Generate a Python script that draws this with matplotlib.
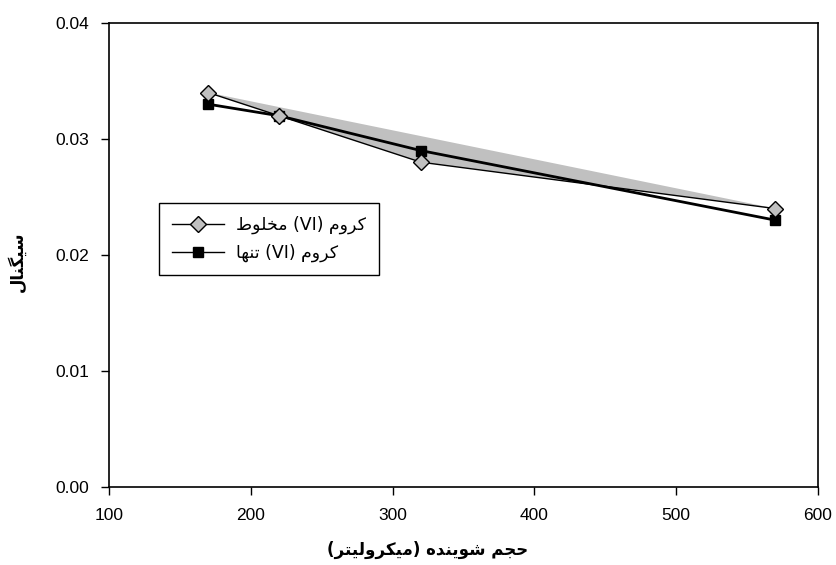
import matplotlib
matplotlib.use("Agg")
import matplotlib.pyplot as plt
from matplotlib.lines import Line2D

# ---------------- data ----------------
volume = [170, 220, 320, 570]
mixed_signal = [0.034, 0.032, 0.028, 0.024]   # کروم (VI) مخلوط
alone_signal = [0.033, 0.032, 0.029, 0.023]   # کروم (VI) تنها
x_ticks = [100, 200, 300, 400, 500, 600]
y_ticks = [0.00, 0.01, 0.02, 0.03, 0.04]
label_mixed = "کروم (VI) مخلوط"
label_alone = "کروم (VI) تنها"
x_label = "حجم شوینده (میکرولیتر)"
y_label = "سیگنال"

# ---------------- minimal Arabic/Persian shaping ----------------
FORMS = {
    "ا": ("\uFE8D", "\uFE8E"),
    "د": ("\uFEA9", "\uFEAA"),
    "ر": ("\uFEAD", "\uFEAE"),
    "و": ("\uFEED", "\uFEEE"),
    "ت": ("\uFE95", "\uFE96", "\uFE97", "\uFE98"),
    "ج": ("\uFE9D", "\uFE9E", "\uFE9F", "\uFEA0"),
    "ح": ("\uFEA1", "\uFEA2", "\uFEA3", "\uFEA4"),
    "خ": ("\uFEA5", "\uFEA6", "\uFEA7", "\uFEA8"),
    "س": ("\uFEB1", "\uFEB2", "\uFEB3", "\uFEB4"),
    "ش": ("\uFEB5", "\uFEB6", "\uFEB7", "\uFEB8"),
    "ط": ("\uFEC1", "\uFEC2", "\uFEC3", "\uFEC4"),
    "ل": ("\uFEDD", "\uFEDE", "\uFEDF", "\uFEE0"),
    "م": ("\uFEE1", "\uFEE2", "\uFEE3", "\uFEE4"),
    "ن": ("\uFEE5", "\uFEE6", "\uFEE7", "\uFEE8"),
    "ه": ("\uFEE9", "\uFEEA", "\uFEEB", "\uFEEC"),
    "ک": ("\uFB8E", "\uFB8F", "\uFB90", "\uFB91"),
    "گ": ("\uFB92", "\uFB93", "\uFB94", "\uFB95"),
    "ی": ("\uFBFC", "\uFBFD", "\uFBFE", "\uFBFF"),
}


def shape(s):
    out = []
    for i, c in enumerate(s):
        if c not in FORMS:
            out.append(c)
            continue
        prev = s[i - 1] if i > 0 else ""
        nxt = s[i + 1] if i + 1 < len(s) else ""
        jp = prev in FORMS and len(FORMS[prev]) == 4
        jn = len(FORMS[c]) == 4 and nxt in FORMS
        f = FORMS[c]
        if jp and jn:
            out.append(f[3])
        elif jp:
            out.append(f[1])
        elif jn:
            out.append(f[2])
        else:
            out.append(f[0])
    shaped = "".join(out)
    # visual order: reverse, keep latin runs LTR, mirror brackets
    rev = shaped[::-1]
    res, run = [], ""
    for ch in rev:
        if ch.isascii() and ch.isalnum():
            run += ch
        else:
            if run:
                res.append(run[::-1])
                run = ""
            res.append({"(": ")", ")": "("}.get(ch, ch))
    if run:
        res.append(run[::-1])
    return "".join(res)


# ---------------- figure ----------------
plt.rcParams["font.family"] = ["Liberation Sans", "DejaVu Sans"]
fig = plt.figure(figsize=(8.37, 5.65), dpi=100)
ax = fig.add_axes([109 / 837, 1 - 487 / 565, (818 - 109) / 837, (487 - 23) / 565])

# gray polygon of the mixed series
ax.fill(volume, mixed_signal, color="#c0c0c0", linewidth=0, zorder=1)

ax.plot(volume, alone_signal, color="black", linewidth=2.0, marker="s",
        markersize=6.5, markerfacecolor="black", markeredgecolor="black", zorder=3)
ax.plot(volume, mixed_signal, color="black", linewidth=1.0, marker="D",
        markersize=8.5, markerfacecolor="#c0c0c0", markeredgecolor="black",
        markeredgewidth=1.0, zorder=4)

ax.set_xlim(100, 600)
ax.set_ylim(0, 0.04)
ax.set_xticks(x_ticks)
ax.set_yticks(y_ticks)
ax.set_yticklabels([f"{v:.2f}" for v in y_ticks])
ax.tick_params(axis="both", direction="out", length=6, width=1, labelsize=12.5,
               colors="black")
ax.tick_params(axis="x", pad=9)
ax.tick_params(axis="y", pad=8)
for sp in ax.spines.values():
    sp.set_linewidth(1.2)
    sp.set_color("black")

ax.set_xlabel(shape(x_label), family=["DejaVu Sans"], fontweight="bold",
              fontsize=12)
ax.xaxis.set_label_coords((428 - 109) / 709, (487 - 541) / 464)
ax.set_ylabel(shape(y_label), family=["DejaVu Sans"], fontweight="bold",
              fontsize=12)
ax.yaxis.set_label_coords((27 - 109) / 709, (487 - 262) / 464)

handles = [
    Line2D([], [], color="black", linewidth=1.0, marker="D", markersize=8.5,
           markerfacecolor="#c0c0c0", markeredgecolor="black"),
    Line2D([], [], color="black", linewidth=1.0, marker="s", markersize=6.5,
           markerfacecolor="black", markeredgecolor="black"),
]
leg = ax.legend(handles, [shape(label_mixed), shape(label_alone)],
                loc="upper left", bbox_to_anchor=((159 - 109) / 709, (487 - 203) / 464),
                prop={"family": ["DejaVu Sans"], "size": 12.5},
                frameon=True, fancybox=False, edgecolor="black", framealpha=1,
                borderpad=0.75, handlelength=3.0, handletextpad=0.7,
                labelspacing=0.55, borderaxespad=0)
leg.get_frame().set_linewidth(1.0)

fig.savefig("out.png", dpi=100)
